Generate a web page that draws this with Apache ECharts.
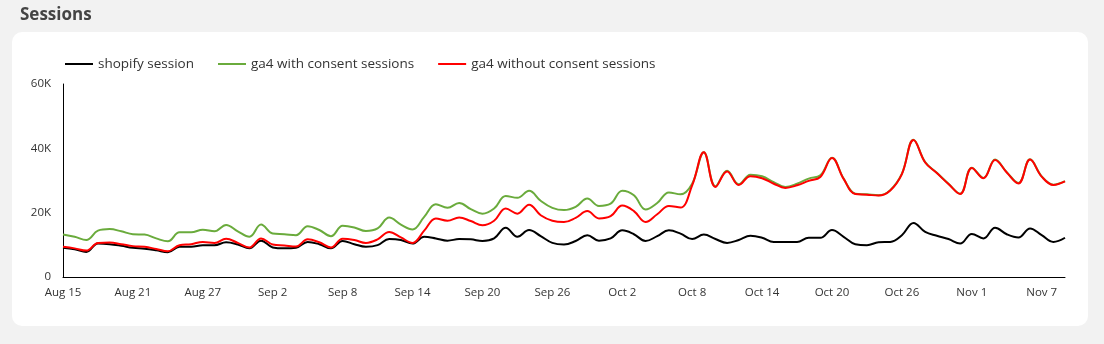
<!DOCTYPE html>
<html>
<head>
<meta charset="utf-8">
<script src="https://cdn.jsdelivr.net/npm/echarts@6/dist/echarts.min.js"></script>
<style>
html,body{margin:0;padding:0;background:#f2f2f2;}
#chart{width:1104px;height:344px;}
</style>
</head>
<body>
<div id="chart"></div>
<script>
const categories = [
 'Aug 15','Aug 16','Aug 17','Aug 18','Aug 19','Aug 20','Aug 21','Aug 22','Aug 23','Aug 24','Aug 25','Aug 26','Aug 27','Aug 28','Aug 29','Aug 30','Aug 31',
 'Sep 1','Sep 2','Sep 3','Sep 4','Sep 5','Sep 6','Sep 7','Sep 8','Sep 9','Sep 10','Sep 11','Sep 12','Sep 13','Sep 14','Sep 15','Sep 16','Sep 17','Sep 18','Sep 19','Sep 20','Sep 21','Sep 22','Sep 23','Sep 24','Sep 25','Sep 26','Sep 27','Sep 28','Sep 29','Sep 30',
 'Oct 1','Oct 2','Oct 3','Oct 4','Oct 5','Oct 6','Oct 7','Oct 8','Oct 9','Oct 10','Oct 11','Oct 12','Oct 13','Oct 14','Oct 15','Oct 16','Oct 17','Oct 18','Oct 19','Oct 20','Oct 21','Oct 22','Oct 23','Oct 24','Oct 25','Oct 26','Oct 27','Oct 28','Oct 29','Oct 30','Oct 31',
 'Nov 1','Nov 2','Nov 3','Nov 4','Nov 5','Nov 6','Nov 7','Nov 8','Nov 9'
];

const shopify = [
 9.1,8.6,7.8,10.4,10.2,9.7,9.1,8.8,8.3,7.7,9.4,9.4,9.9,9.9,10.8,10.1,8.9,
 11.3,9.2,8.9,9.1,10.9,10.2,8.9,11.2,10.2,9.4,9.9,11.8,11.5,10.4,12.5,12.0,11.3,11.8,11.7,11.2,12.0,15.3,12.5,14.6,12.7,10.6,10.1,11.2,13.0,11.3,
 12.0,14.5,13.3,11.2,12.7,14.5,13.5,11.8,13.2,11.8,10.6,11.5,12.8,12.2,10.9,10.9,10.9,12.2,12.2,14.6,12.5,10.2,9.9,10.8,10.9,13.0,16.8,14.0,12.8,11.8,10.4,
 13.4,12.0,15.3,13.3,12.3,15.1,13.0,10.9,12.2
];

const withConsent = [
 13.2,12.5,11.5,14.4,14.9,14.2,13.3,13.2,12.0,11.1,13.9,13.9,14.7,14.2,16.2,14.2,12.5,
 16.3,13.5,13.3,13.0,15.8,14.6,12.7,15.9,15.4,14.3,15.1,18.5,16.3,14.8,18.7,22.6,21.5,23.0,21.1,19.7,21.3,25.2,24.6,26.8,23.7,21.5,20.8,21.8,24.4,22.1,
 22.8,26.8,25.4,21.0,23.0,26.3,25.7,29.0,38.8,28.2,33.0,28.8,31.8,31.3,29.5,28.0,29.0,30.6,31.6,37.1,30.6,25.9,25.7,25.4,27.0,32.1,42.7,35.7,32.4,29.0,25.9,
 34.0,30.8,36.5,32.6,29.2,36.6,31.3,28.7,29.8
];

const withoutConsent = [
 9.4,8.9,8.2,10.6,10.7,10.2,9.6,9.4,8.7,8.0,9.9,10.2,10.9,10.6,11.9,10.6,9.2,
 12.0,10.1,9.8,9.5,11.7,10.8,9.2,11.9,11.5,10.6,11.7,14.0,12.3,10.6,14.4,18.2,17.5,18.5,17.4,16.1,17.5,21.3,19.7,22.5,19.2,17.5,17.1,18.4,20.5,18.2,
 18.9,22.2,20.5,17.1,19.5,22.1,21.6,28.5,38.8,28.0,32.8,28.6,31.3,30.7,29.0,27.7,28.5,29.9,31.1,37.0,30.5,25.8,25.6,25.3,26.9,32.0,42.6,35.6,32.3,28.9,25.8,
 33.9,30.7,36.4,32.5,29.1,36.5,31.2,28.6,29.7
];

const yTicks = [0, 20000, 40000, 60000];

const toSessions = arr => arr.map(v => Math.round(v * 1000));

const font = '"Open Sans", Lato, sans-serif';
const chart = echarts.init(document.getElementById('chart'));
chart.setOption({
  backgroundColor: '#f2f2f2',
  animation: false,
  textStyle: { fontFamily: font },
  title: {
    text: 'Sessions', left: 15, top: 2,
    textStyle: { fontSize: 17, fontWeight: 'bold', color: '#444', fontFamily: font }
  },
  graphic: [{
    type: 'rect', z: -10, silent: true,
    shape: { x: 12, y: 32, width: 1076, height: 294, r: 10 },
    style: { fill: '#ffffff' }
  }],
  legend: {
    left: 60, top: 52,
    icon: 'rect', itemWidth: 28, itemHeight: 2, itemGap: 24,
    textStyle: { fontSize: 13.5, color: '#333', fontFamily: font },
    data: ['shopify session', 'ga4 with consent sessions', 'ga4 without consent sessions']
  },
  grid: { left: 63, right: 39, top: 84, bottom: 67 },
  xAxis: {
    type: 'category', data: categories, boundaryGap: false,
    axisLine: { lineStyle: { color: '#000', width: 1 } },
    axisTick: { show: false },
    axisLabel: { interval: 5, color: '#333', fontSize: 11.5, margin: 10, fontFamily: font }
  },
  yAxis: {
    type: 'value', min: yTicks[0], max: yTicks[yTicks.length - 1], interval: yTicks[1] - yTicks[0],
    axisLine: { show: true, lineStyle: { color: '#000', width: 1 } },
    axisTick: { show: false },
    splitLine: { show: false },
    axisLabel: {
      color: '#333', fontSize: 11.5, margin: 12, fontFamily: font,
      formatter: v => v === 0 ? '0' : (v / 1000) + 'K'
    }
  },
  series: [
    { name: 'shopify session', type: 'line', data: toSessions(shopify), smooth: 0.4, showSymbol: false,
      lineStyle: { color: '#000000', width: 2 }, itemStyle: { color: '#000000' }, z: 3 },
    { name: 'ga4 with consent sessions', type: 'line', data: toSessions(withConsent), smooth: 0.4, showSymbol: false,
      lineStyle: { color: '#6aab3c', width: 2 }, itemStyle: { color: '#6aab3c' }, z: 2 },
    { name: 'ga4 without consent sessions', type: 'line', data: toSessions(withoutConsent), smooth: 0.4, showSymbol: false,
      lineStyle: { color: '#ff0000', width: 2 }, itemStyle: { color: '#ff0000' }, z: 4 }
  ]
});
</script>
</body>
</html>
